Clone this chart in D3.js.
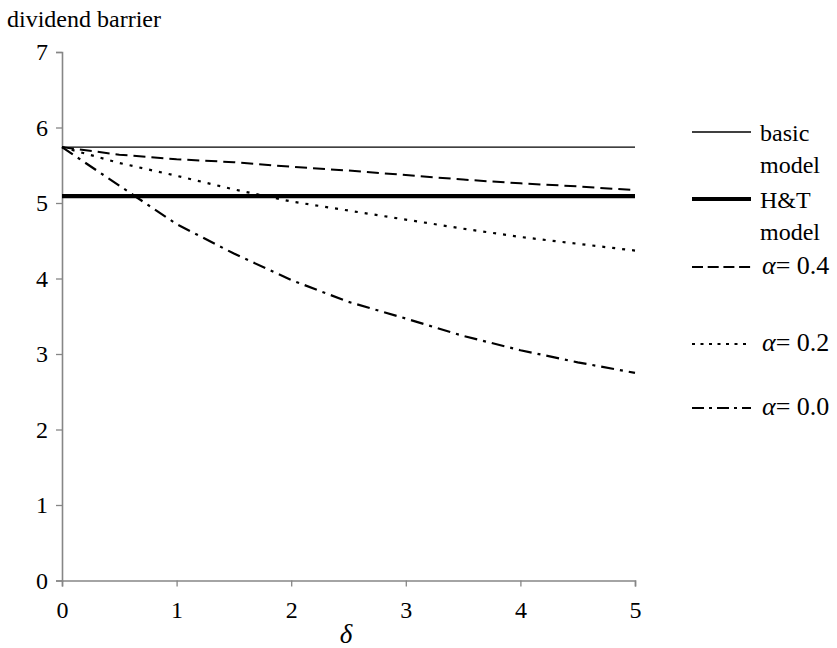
<!DOCTYPE html>
<html>
<head>
<meta charset="utf-8">
<script src="https://cdn.jsdelivr.net/npm/d3@7/dist/d3.min.js"></script>
<style>
  html, body { margin: 0; padding: 0; background: #fff; }
</style>
</head>
<body>
<svg id="chart" width="837" height="648"></svg>
<script>
// Dividend barrier as a function of delta
const deltaTicks = [0, 1, 2, 3, 4, 5];
const barrierTicks = [0, 1, 2, 3, 4, 5, 6, 7];
const deltas = [0, 0.5, 1, 1.5, 2, 2.5, 3, 3.5, 4, 4.5, 5];
const basicModel = 5.74;
const htModel = 5.09;
const alpha04 = [5.74, 5.64, 5.58, 5.54, 5.48, 5.43, 5.37, 5.31, 5.26, 5.22, 5.17];
const alpha02 = [5.74, 5.53, 5.36, 5.18, 5.02, 4.90, 4.78, 4.66, 4.55, 4.46, 4.37];
const alpha00 = [5.74, 5.23, 4.72, 4.33, 3.98, 3.69, 3.47, 3.24, 3.05, 2.89, 2.75];

const serif = "Liberation Serif";
const svg = d3.select("#chart");
const x = d3.scaleLinear().domain([0, 5]).range([62, 635]);
const y = d3.scaleLinear().domain([0, 7]).range([580.5, 52]);

const axisColor = "#868686";

// axes
const xAxis = svg.append("g").attr("transform", `translate(0,${y(0)})`)
  .call(d3.axisBottom(x).tickValues(deltaTicks).tickSize(6).tickPadding(14).tickFormat(d3.format("d")));
const yAxis = svg.append("g").attr("transform", `translate(${x(0)},0)`)
  .call(d3.axisLeft(y).tickValues(barrierTicks).tickSize(6).tickPadding(8).tickFormat(d3.format("d")));
[xAxis, yAxis].forEach(g => {
  g.attr("font-family", serif).attr("font-size", 24);
  g.select(".domain").attr("stroke", axisColor).attr("stroke-width", 1.6);
  g.selectAll(".tick line").attr("stroke", axisColor).attr("stroke-width", 1.3);
  g.selectAll(".tick text").attr("fill", "#000").attr("font-family", serif);
});

// titles
svg.append("text").attr("x", 7).attr("y", 27).attr("font-family", serif).attr("font-size", 24).text("dividend barrier");
svg.append("text").attr("x", 346).attr("y", 643).attr("text-anchor", "middle").attr("font-family", serif)
  .attr("font-size", 27).attr("font-style", "italic").text("δ");

// series
const series = [
  { name: "basic", values: deltas.map(() => basicModel), width: 1.4, dash: null },
  { name: "ht", values: deltas.map(() => htModel), width: 4.2, dash: null },
  { name: "a04", values: alpha04, width: 2, dash: "12,6" },
  { name: "a02", values: alpha02, width: 2.2, dash: "3,7" },
  { name: "a00", values: alpha00, width: 2.2, dash: "13,6,3,6" }
];
const line = d3.line().x((d, i) => x(deltas[i])).y(d => y(d));
svg.append("g").selectAll("path").data(series).join("path")
  .attr("d", s => line(s.values))
  .attr("fill", "none")
  .attr("stroke", "#000")
  .attr("stroke-width", s => s.width)
  .attr("stroke-dasharray", s => s.dash);

// legend
const legendItems = [
  { label: ["basic", "model"], y: 132, width: 1.4, dash: null },
  { label: ["H&T", "model"], y: 199, width: 4.2, dash: null },
  { alpha: "0.4", y: 267, width: 2, dash: "11,4.7" },
  { alpha: "0.2", y: 344, width: 2, dash: "3,5.5" },
  { alpha: "0.0", y: 408, width: 2, dash: "12,5,3,5" }
];
const lg = svg.append("g").attr("font-family", serif);
legendItems.forEach(it => {
  lg.append("line").attr("x1", 692).attr("x2", 751).attr("y1", it.y).attr("y2", it.y)
    .attr("stroke", "#000").attr("stroke-width", it.width).attr("stroke-dasharray", it.dash);
  if (it.label) {
    lg.append("text").attr("x", 760).attr("y", it.y + 9).attr("font-family", serif).attr("font-size", 24).text(it.label[0]);
    lg.append("text").attr("x", 760).attr("y", it.y + 41).attr("font-family", serif).attr("font-size", 24).text(it.label[1]);
  } else {
    const t = lg.append("text").attr("x", 762).attr("y", it.y + 7).attr("font-family", serif).attr("font-size", 26);
    t.append("tspan").attr("font-style", "italic").text("α");
    t.append("tspan").text("= " + it.alpha);
  }
});
</script>
</body>
</html>
